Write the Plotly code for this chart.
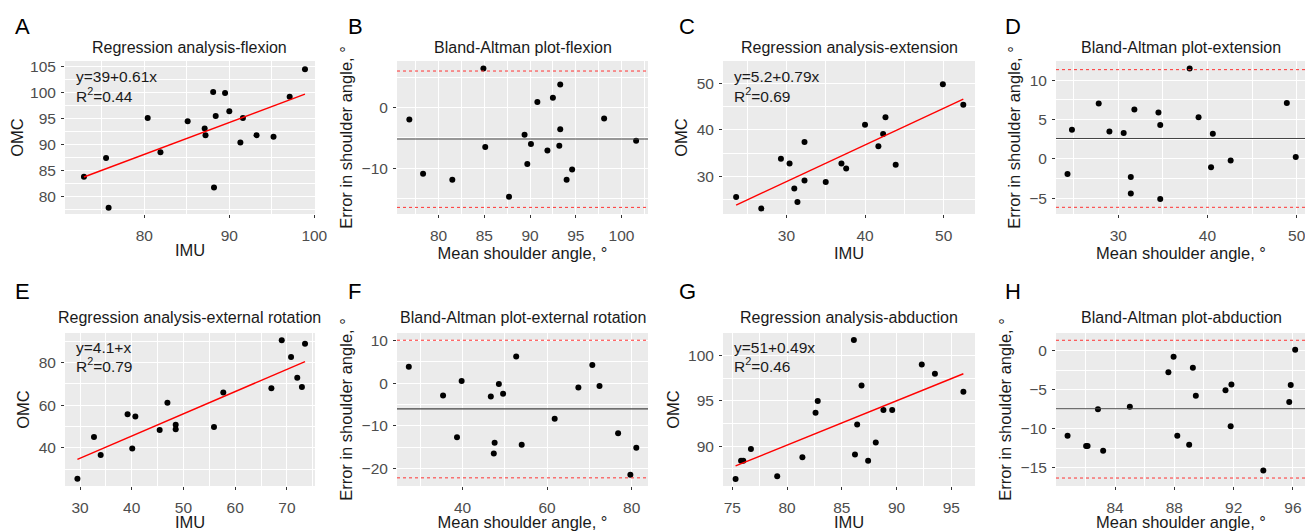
import numpy as np
import plotly.graph_objects as go

# ---------------- data ----------------
# A: regression flexion
flex_imu = [72.9, 75.5, 75.8, 80.4, 81.9, 85.1, 87.1, 87.2, 88.1, 88.2, 88.4, 89.5, 90.0, 91.3, 91.6, 93.2, 95.2, 97.1, 98.9]
flex_omc = [83.8, 87.4, 77.8, 95.1, 88.5, 94.5, 93.1, 91.8, 100.1, 81.7, 95.5, 99.9, 96.4, 90.4, 95.1, 91.8, 91.5, 99.2, 104.5]
# B: Bland-Altman flexion
ba_flex_mean = [76.8, 78.3, 81.5, 84.9, 85.1, 87.7, 89.4, 89.7, 90.1, 90.8, 91.9, 92.5, 93.2, 93.3, 93.3, 94.0, 94.6, 98.1, 101.6]
ba_flex_diff = [-2.0, -10.9, -11.9, 6.4, -6.5, -14.7, -4.5, -9.3, -6.0, 0.9, -7.1, 1.6, -6.3, 3.8, -3.6, -11.9, -10.2, -1.8, -5.5]
ba_flex_lines = [-5.2, 6.0, -16.45]

# C: regression extension
ext_imu = [23.6, 26.8, 29.3, 30.4, 31.0, 31.4, 32.3, 32.3, 35.0, 37.0, 37.6, 40.0, 41.7, 42.3, 42.6, 43.9, 49.9, 52.5]
ext_omc = [25.6, 23.1, 33.8, 32.8, 27.4, 24.5, 37.4, 29.1, 28.8, 32.8, 31.7, 41.1, 36.5, 39.1, 42.7, 32.5, 49.8, 45.4]
# D: Bland-Altman extension
ba_ext_mean = [24.3, 24.8, 27.8, 29.0, 30.6, 31.4, 31.4, 31.8, 34.5, 34.7, 34.7, 38.0, 39.0, 40.4, 40.6, 42.6, 48.9, 49.9]
ba_ext_diff = [-1.9, 3.7, 7.05, 3.5, 3.3, -2.3, -4.4, 6.3, 5.9, 4.3, -5.1, 11.5, 5.3, -1.05, 3.2, -0.2, 7.1, 0.25]
ba_ext_lines = [2.6, 11.35, -6.15]

# E: regression external rotation
er_imu = [29.5, 32.7, 34.0, 39.2, 40.1, 40.7, 45.4, 46.9, 48.5, 48.5, 55.9, 57.7, 67.0, 69.0, 70.8, 72.0, 72.9, 73.5]
er_omc = [25.6, 45.1, 36.7, 55.8, 39.7, 54.7, 48.4, 61.2, 50.9, 48.7, 49.8, 66.0, 67.9, 90.4, 82.6, 72.9, 68.5, 88.8]
# F: Bland-Altman external rotation
ba_er_mean = [27.3, 35.4, 38.7, 39.8, 46.7, 47.4, 47.6, 48.6, 49.6, 52.7, 54.0, 61.8, 67.4, 70.7, 72.4, 76.8, 79.7, 81.1]
ba_er_diff = [3.8, -2.9, -12.6, 0.5, -3.1, -16.4, -13.9, -0.2, -2.5, 6.2, -14.4, -8.3, -1.0, 4.2, -0.7, -11.7, -21.4, -15.1]
ba_er_lines = [-6.0, 10.0, -22.1]

# G: regression abduction
abd_imu = [75.3, 75.8, 76.0, 76.7, 79.1, 81.4, 82.6, 82.8, 86.1, 86.2, 86.4, 86.8, 87.4, 88.1, 88.8, 89.6, 92.3, 93.5, 96.1]
abd_omc = [86.4, 88.4, 88.4, 89.7, 86.7, 88.8, 93.7, 95.0, 101.7, 89.1, 92.4, 96.7, 88.4, 90.4, 94.0, 94.0, 99.0, 98.0, 96.0]
# H: Bland-Altman abduction
ba_abd_mean = [80.8, 82.05, 82.15, 82.85, 83.2, 85.0, 87.6, 87.95, 88.2, 89.0, 89.25, 89.45, 91.45, 91.8, 91.85, 94.0, 95.75, 95.85, 96.15]
ba_abd_diff = [-10.9, -12.2, -12.2, -7.5, -12.8, -7.2, -2.8, -0.8, -10.9, -12.05, -2.2, -5.8, -5.1, -9.7, -4.35, -15.35, -6.6, -4.4, 0.1]
ba_abd_lines = [-7.45, 1.3, -16.3]

titles = ["Regression analysis-flexion", "Bland-Altman plot-flexion",
          "Regression analysis-extension", "Bland-Altman plot-extension",
          "Regression analysis-external rotation", "Bland-Altman plot-external rotation",
          "Regression analysis-abduction", "Bland-Altman plot-abduction"]
letters = ["A", "B", "C", "D", "E", "F", "G", "H"]
equations = [("y=39+0.61x", "0.44"), ("y=5.2+0.79x", "0.69"),
             ("y=4.1+x", "0.79"), ("y=51+0.49x", "0.46")]

# ---------------- layout helpers ----------------
PAGE_OFF = 8                     # default body margin of the html page
FW, FH = 1313 - PAGE_OFF, 531 - PAGE_OFF


def px(xp):
    return (xp - PAGE_OFF) / FW


def py(yp):
    return 1 - (yp - PAGE_OFF) / FH


# plot-area pixel boxes in window coords (left, right, top, bottom)
boxes = [(65, 315, 61, 214), (397, 648, 61, 214), (723, 975, 61, 214), (1056, 1306, 61, 214),
         (65, 315, 333, 486), (397, 648, 333, 486), (723, 975, 333, 486), (1056, 1306, 333, 486)]
xranges = [(70.67, 100.08), (75.45, 102.9), (21.93, 53.99), (23.01, 51.05),
           (27.1, 75.43), (24.51, 83.87), (74.15, 97.16), (80.02, 96.88)]
yranges = [(76.6, 106.09), (-17.54, 7.65), (21.93, 54.79), (-7.0, 12.45),
           (22.17, 93.8), (-24.0, 11.69), (85.62, 102.48), (-17.32, 2.23)]
xticks = [(80, 10), (80, 5), (30, 10), (30, 10), (30, 10), (40, 20), (75, 5), (84, 4)]
yticks = [(80, 5), (0, 10), (30, 10), (0, 5), (40, 20), (0, 10), (90, 5), (0, 5)]
letter_left = [13, 346, 677, 1003]
title_y = [47, 317]
letter_y = [26, 291]
eq_y = [(77, 95), (347, 365)]

fig = go.Figure()

BG = "#EBEBEB"
TXT = "#4D4D4D"
DARK = "#1A1A1A"
FONT = "Liberation Sans, Arial, sans-serif"

reg_sets = [(flex_imu, flex_omc), (ext_imu, ext_omc), (er_imu, er_omc), (abd_imu, abd_omc)]
ba_sets = [(ba_flex_mean, ba_flex_diff, ba_flex_lines), (ba_ext_mean, ba_ext_diff, ba_ext_lines),
           (ba_er_mean, ba_er_diff, ba_er_lines), (ba_abd_mean, ba_abd_diff, ba_abd_lines)]

annotations = []
for i in range(8):
    n = i + 1
    row = i // 4
    xa = "x" if n == 1 else f"x{n}"
    ya = "y" if n == 1 else f"y{n}"
    l, r, t, b = boxes[i]
    xd = [px(l), px(r)]
    yd = [py(b), py(t)]
    is_reg = (i % 2 == 0)
    k = i // 2
    if is_reg:
        xs, ys = reg_sets[k]
        fig.add_trace(go.Scatter(x=xs, y=ys, mode="markers", xaxis=xa, yaxis=ya,
                                 marker=dict(color="black", size=6), showlegend=False))
        slope, icpt = np.polyfit(xs, ys, 1)
        lx = [min(xs), max(xs)]
        fig.add_trace(go.Scatter(x=lx, y=[icpt + slope * v for v in lx], mode="lines",
                                 xaxis=xa, yaxis=ya, line=dict(color="#FF0000", width=1.4),
                                 showlegend=False))
        eq, r2 = equations[k]
        annotations.append(dict(x=px(l + 9), y=py(eq_y[row][0]),
                                xref="paper", yref="paper", text=eq, showarrow=False,
                                xanchor="left", yanchor="middle",
                                font=dict(size=15.5, color=DARK, family=FONT)))
        annotations.append(dict(x=px(l + 9), y=py(eq_y[row][1]),
                                xref="paper", yref="paper", text=f"R<sup>2</sup>={r2}",
                                showarrow=False, xanchor="left", yanchor="middle",
                                font=dict(size=15.5, color=DARK, family=FONT)))
        xt, yt = "IMU", "OMC"
    else:
        ms, ds, lines = ba_sets[k]
        xr = xranges[i]
        fig.add_trace(go.Scatter(x=ms, y=ds, mode="markers", xaxis=xa, yaxis=ya,
                                 marker=dict(color="black", size=6), showlegend=False))
        bias, up, lo = lines
        fig.add_trace(go.Scatter(x=list(xr), y=[bias, bias], mode="lines", xaxis=xa, yaxis=ya,
                                 line=dict(color="#444444", width=1.1), showlegend=False))
        for v in (up, lo):
            fig.add_trace(go.Scatter(x=list(xr), y=[v, v], mode="lines", xaxis=xa, yaxis=ya,
                                     line=dict(color="#FF3333", width=1, dash="3px,3px"),
                                     showlegend=False))
        xt, yt = "Mean shoulder angle, °", "Error in shoulder angle, °"

    x0, dx = xticks[i]
    y0, dy = yticks[i]
    axcommon = dict(showline=False, zeroline=False, gridcolor="white", gridwidth=1.1,
                    ticks="outside", ticklen=3, tickcolor="#333333", tickwidth=1,
                    automargin=False,
                    tickfont=dict(size=15.5, color=TXT, family=FONT))
    fig.layout[("xaxis" if n == 1 else f"xaxis{n}")] = dict(
        domain=xd, anchor=ya, range=list(xranges[i]), tick0=x0, dtick=dx,
        ticklabelstandoff=4,
        minor=dict(showgrid=True, gridcolor="white", gridwidth=0.5, tick0=x0 - dx / 2, dtick=dx),
        title=dict(text=xt, font=dict(size=16.5, color=DARK, family=FONT), standoff=1),
        **axcommon)
    fig.layout[("yaxis" if n == 1 else f"yaxis{n}")] = dict(
        domain=yd, anchor=xa, range=list(yranges[i]), tick0=y0, dtick=dy,
        ticklabelstandoff=2,
        minor=dict(showgrid=True, gridcolor="white", gridwidth=0.5, tick0=y0 - dy / 2, dtick=dy),
        title=dict(text=yt, font=dict(size=16.5, color=DARK, family=FONT), standoff=4),
        **axcommon)
    # panel background
    fig.add_shape(type="rect", xref="paper", yref="paper", x0=xd[0], x1=xd[1], y0=yd[0], y1=yd[1],
                  fillcolor=BG, line=dict(width=0), layer="below")
    # title
    annotations.append(dict(x=px((l + r) / 2), y=py(title_y[row]), xref="paper", yref="paper",
                            text=titles[i], showarrow=False, xanchor="center", yanchor="middle",
                            font=dict(size=16, color=DARK, family=FONT)))
    # panel letter
    annotations.append(dict(x=px(letter_left[i % 4]), y=py(letter_y[row]), xref="paper",
                            yref="paper", text=letters[i], showarrow=False, xanchor="left",
                            yanchor="middle", font=dict(size=22, color="black", family=FONT)))

fig.update_layout(width=FW, height=FH, margin=dict(l=0, r=0, t=0, b=0),
                  paper_bgcolor="white", plot_bgcolor="rgba(0,0,0,0)",
                  annotations=annotations, font=dict(family=FONT))
fig.write_html("out.html")
